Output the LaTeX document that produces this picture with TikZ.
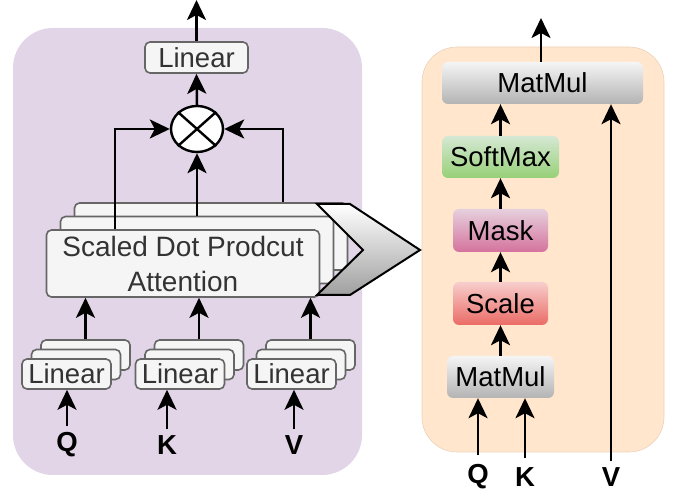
\documentclass[tikz,border=0pt]{standalone}
\usepackage{fontspec}
\setmainfont{Liberation Sans}
\usepackage{tikz}
\usetikzlibrary{arrows.meta}
\usetikzlibrary{shapes.geometric}
\usetikzlibrary{math}

\definecolor{purplePanel}{HTML}{E1D5E7}
\definecolor{orangePanel}{HTML}{FFE6CC}
\definecolor{orangeLine}{HTML}{EAD2BA}
\definecolor{boxFill}{HTML}{F5F5F5}
\definecolor{boxLine}{HTML}{666666}
\definecolor{txtGray}{HTML}{333333}
\definecolor{grayTop}{HTML}{F5F5F5}
\definecolor{grayBot}{HTML}{B3B3B3}
\definecolor{greenTop}{HTML}{D5E8D4}
\definecolor{greenBot}{HTML}{97D077}
\definecolor{pinkTop}{HTML}{E6D0DE}
\definecolor{pinkBot}{HTML}{D5739D}
\definecolor{redTop}{HTML}{F8CECC}
\definecolor{redBot}{HTML}{EA6B66}

\tikzset{
  arr/.style={line width=2.5pt, -{Stealth[length=20pt,width=19pt,inset=5pt]}},
  box/.style={draw=boxLine, fill=boxFill, line width=1.6pt, rounded corners=5pt,
    inner sep=0pt, text=txtGray, font=\fontsize{27.5}{35}\selectfont, align=center},
  grad/.style={rounded corners=6pt, inner sep=0pt, font=\fontsize{27.5}{30}\selectfont},
  lbl/.style={font=\bfseries\fontsize{27.5}{30}\selectfont, inner sep=6pt}
}

\begin{document}
\begin{tikzpicture}[x=1pt, y=-1pt]
      \tikzmath{
        \dx = 14;
        \dy = 13.5;
        \lw = 89;
        \lh = 30;
        \ld = 9.5;
      }
      \useasboundingbox (0,0) rectangle (681,494);

      % panels
      \fill[purplePanel, rounded corners=40pt] (13,28) rectangle (362,475);
      \draw[orangeLine, fill=orangePanel, line width=0.6pt, rounded corners=35pt] (422,47) rectangle (664,452);

      % multi-head attention
      \node[box, minimum width=103pt, minimum height=31pt] (lintop) at (196.5,57.5) {Linear};
      \coordinate (out1) at (196.5,0);
      \draw[arr] (lintop.north) -- (out1);
      \node[ellipse, draw, fill=white, line width=2.4pt, minimum width=52pt, minimum height=46pt] (mul) at (197,129) {};
      \draw[line width=2.4pt] (mul.north west) -- (mul.south east);
      \draw[line width=2.4pt] (mul.north east) -- (mul.south west);
      \draw[arr] (mul.north) -- (lintop.south);

      \node[box, minimum width=273pt, minimum height=67pt] (sdp3) at (183+2*\dx,263.5-2*\dy) {};
      \node[box, minimum width=273pt, minimum height=67pt] (sdp2) at (183+\dx,263.5-\dy) {};
      \node[box, minimum width=273pt, minimum height=67pt, font=\fontsize{28}{35}\selectfont] (sdp1) at (183,263.5) {Scaled Dot Prodcut\\Attention};

      \draw[arr] ([xshift=-68pt]sdp1.north) |- (mul.west);
      \draw[arr] (sdp2.north) -- (mul.south);
      \draw[arr] ([xshift=72pt]sdp3.north) |- (mul.east);

      % chevron
      \draw[line width=2pt, top color=white, bottom color=gray!75, line join=miter]
        (317,204) -- (350,204) -- (420,250) -- (350,295) -- (317,295) -- (363,250) -- cycle;

      % linear heads
      \foreach \n/\x in {q/66.5, k/180, v/291.5} {
        \node[box, minimum width=\lw pt, minimum height=\lh pt] (\n3) at (\x+2*\ld,374-2*\ld) {};
        \node[box, minimum width=\lw pt, minimum height=\lh pt] (\n2) at (\x+\ld,374-\ld) {};
        \node[box, minimum width=\lw pt, minimum height=\lh pt] (\n1) at (\x,374) {Linear};
        \draw[arr] (\n3.north) -- (\n3.north |- sdp1.south);
      }
      \foreach \n/\x/\t in {q/67/Q, k/167/K, v/294/V} {
        \node[lbl] (lab\n) at (\x,445) {\t};
        \draw[arr] (lab\n.north) -- (lab\n.north |- \n1.south);
      }

      % scaled dot product attention
      \node[grad, top color=grayTop, bottom color=grayBot, minimum width=201pt, minimum height=42pt] (mm2) at (542.5,83) {MatMul};
      \node[grad, top color=greenTop, bottom color=greenBot, minimum width=117pt, minimum height=42pt] (soft) at (500.5,157) {SoftMax};
      \node[grad, top color=pinkTop, bottom color=pinkBot, minimum width=95pt, minimum height=43pt] (mask) at (500.5,230.5) {Mask};
      \node[grad, top color=redTop, bottom color=redBot, minimum width=95pt, minimum height=43pt] (scale) at (500.5,303.5) {Scale};
      \node[grad, top color=grayTop, bottom color=grayBot, minimum width=107pt, minimum height=42pt] (mm1) at (500.5,377) {MatMul};
      \coordinate (out2) at (541,18);
      \draw[arr] (mm2.north -| out2) -- (out2);
      \draw[arr] (mm1) -- (scale);
      \draw[arr] (scale) -- (mask);
      \draw[arr] (mask) -- (soft);
      \draw[arr] (soft.north) -- (soft.north |- mm2.south);

      \node[lbl] (rq) at (478,477) {Q};
      \node[lbl] (rk) at (525,477) {K};
      \node[lbl] (rv) at (611,477) {V};
      \draw[arr] ([yshift=3pt]rq.north) -- (rq.north |- mm1.south);
      \draw[arr] ([yshift=3pt]rk.north) -- (rk.north |- mm1.south);
      \draw[arr] (rv.north) -- (rv.north |- mm2.south);

    \end{tikzpicture}
\end{document}
